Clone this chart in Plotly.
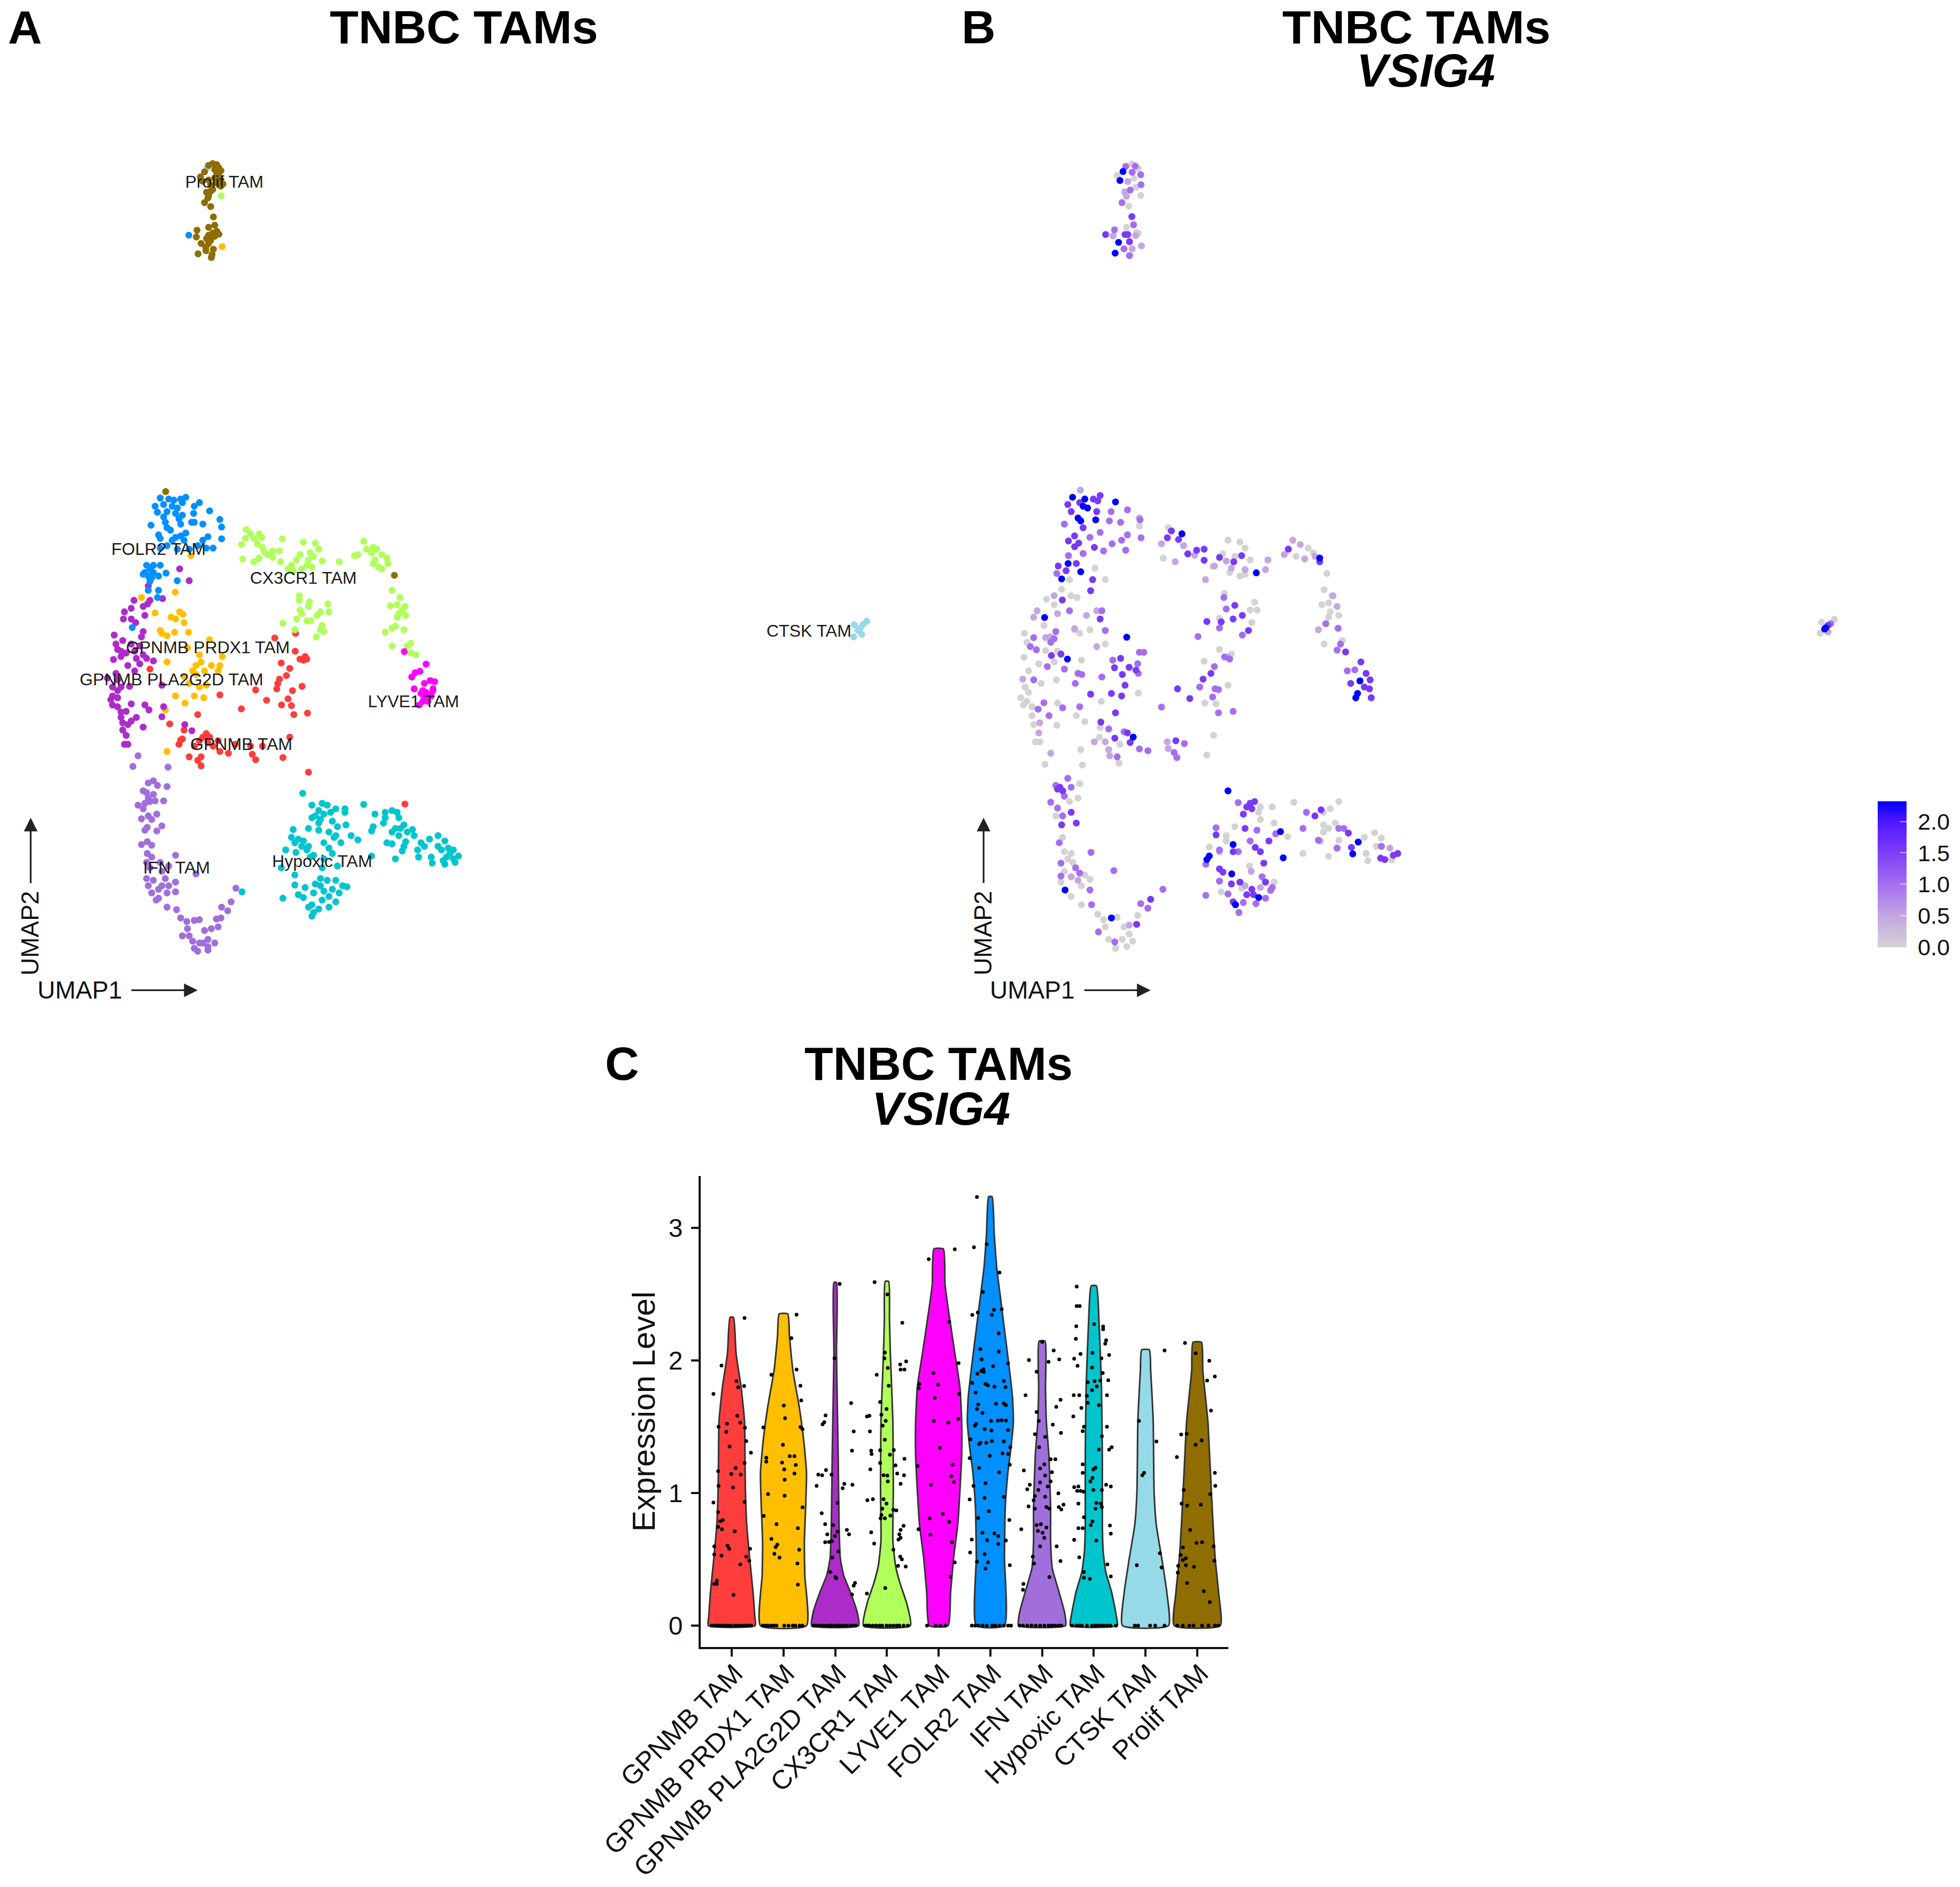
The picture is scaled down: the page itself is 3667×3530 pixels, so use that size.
import plotly.graph_objects as go

W, H = 3667, 3530
FONT = "Liberation Sans"

categories = ["GPNMB TAM", "GPNMB PRDX1 TAM", "GPNMB PLA2G2D TAM", "CX3CR1 TAM", "LYVE1 TAM",
              "FOLR2 TAM", "IFN TAM", "Hypoxic TAM", "CTSK TAM", "Prolif TAM"]
colors = ["#FF3D3D", "#FFBF00", "#AD2CC9", "#B0FF5A", "#FF00FF",
          "#0090FF", "#A06FDB", "#00C5CD", "#96DAE9", "#8F6D00"]

# ---------- Panel A: UMAP read-off positions (1/100 style plot units) ----------
gpnmb = [(867,500),(806,513),(866,550),(895,565),(880,572),(890,575),(900,572),(825,583),(850,598),(440,600),(840,618),(820,628),(815,640),(812,655),(750,658),(858,660),(886,648),(645,672),(782,687),(845,683),(708,711),(826,700),(855,702),(580,727),(862,727),(902,723),(498,753),(540,770),(605,780),(615,790),(850,790),(535,795),(585,800),(640,800),(610,805),(525,810),(570,815),(625,815),(690,810),(735,815),(770,815),(645,830),(670,835),(555,845),(740,838),(590,845),(830,847),(580,855),(750,853),(590,870),(905,888),(1188,977),(530,798),(595,790)]
prdx1 = [(415,400),(514,385),(455,443),(527,440),(537,447),(502,455),(515,460),(540,470),(470,492),(475,500),(553,497),(512,497),(490,507),(615,518),(550,540),(585,560),(652,565),(490,580),(590,580),(575,590),(620,590),(645,590),(565,605),(600,605),(575,615),(640,605),(555,640),(605,645),(585,650),(515,675),(570,675),(598,680),(543,695),(485,714),(490,830),(560,283),(540,620),(652,-580)]
pla2g2d = [(435,368),(527,320),(555,353),(477,403),(393,408),(440,408),(420,425),(433,418),(385,430),(365,440),(425,450),(362,460),(385,460),(398,470),(420,495),(335,505),(415,510),(360,520),(340,530),(385,530),(410,535),(345,545),(355,550),(370,555),(395,550),(420,560),(355,565),(400,570),(430,570),(450,577),(333,573),(375,590),(410,585),(395,605),(340,612),(315,625),(345,630),(330,650),(355,650),(475,645),(380,648),(345,660),(330,675),(325,685),(345,680),(330,700),(345,705),(385,697),(425,700),(437,714),(370,718),(355,735),(400,735),(385,745),(360,750),(375,755),(360,770),(420,762),(475,733),(480,705),(370,785),(365,810),(375,810),(542,755),(563,772),(355,720)]
cx3cr1 = [(722,210),(735,222),(760,222),(720,235),(745,235),(768,232),(828,236),(708,252),(755,250),(770,260),(775,272),(800,270),(820,270),(785,280),(800,288),(760,290),(745,300),(712,293),(823,300),(890,245),(925,248),(935,265),(910,275),(880,280),(920,285),(870,295),(905,295),(945,298),(995,300),(855,310),(900,310),(885,320),(915,315),(860,325),(845,320),(1067,243),(1095,260),(1105,265),(1075,265),(1050,280),(1090,275),(1120,280),(1135,290),(1040,283),(1100,295),(1138,305),(1095,305),(1120,320),(1110,315),(1150,380),(1173,400),(1145,423),(1165,420),(1188,425),(1180,435),(1170,445),(1190,450),(1165,455),(1160,480),(1150,485),(1185,490),(1130,497),(1205,528),(1195,535),(1150,535),(1205,555),(1220,560),(878,395),(878,408),(908,412),(962,418),(880,435),(905,425),(965,440),(940,440),(930,450),(885,445),(870,460),(912,465),(830,472),(945,478),(865,490),(900,465),(950,495),(928,510),(940,490),(649,-722)]
lyve1 = [(1186,551),(1250,586),(1232,606),(1218,610),(1208,622),(1262,632),(1275,635),(1245,640),(1215,655),(1240,660),(1270,655),(1250,665),(1235,668),(1265,675),(1245,680),(1240,690),(1230,700),(1255,690),(1270,660)]
folr2 = [(545,120),(530,125),(510,128),(495,125),(470,122),(455,145),(480,140),(505,145),(520,150),(535,135),(585,135),(570,145),(462,162),(490,160),(515,165),(535,170),(480,175),(525,180),(568,165),(615,158),(645,182),(650,203),(595,195),(570,190),(562,190),(485,190),(530,195),(443,198),(490,205),(500,212),(465,225),(545,220),(530,228),(515,232),(610,230),(595,240),(650,236),(625,262),(605,262),(470,235),(505,240),(490,255),(540,240),(470,262),(580,255),(520,265),(555,265),(450,310),(470,310),(440,320),(425,330),(450,330),(435,340),(420,335),(465,340),(487,332),(440,355),(520,353),(435,380),(465,380),(462,400),(388,484),(430,310),(445,345),(554,-612)]
ifn = [(405,842),(390,872),(493,874),(450,912),(435,918),(462,925),(490,928),(420,940),(430,945),(450,950),(435,960),(455,968),(480,968),(405,980),(425,975),(440,970),(420,990),(460,1005),(435,1010),(415,1018),(445,1020),(432,1042),(475,1038),(425,1050),(460,1052),(432,1082),(415,1090),(445,1092),(432,1115),(515,1120),(445,1125),(430,1140),(470,1140),(440,1155),(495,1150),(575,1172),(475,1165),(430,1185),(450,1190),(485,1185),(515,1195),(435,1205),(475,1205),(495,1205),(445,1225),(465,1215),(490,1225),(515,1222),(465,1240),(458,1245),(490,1265),(518,1272),(692,1212),(678,1250),(650,1265),(668,1275),(648,1295),(635,1298),(530,1295),(585,1300),(570,1302),(548,1305),(640,1320),(620,1325),(600,1330),(550,1325),(535,1345),(555,1345),(610,1355),(630,1365),(565,1360),(585,1365),(610,1375),(570,1380),(580,1388),(610,1385),(595,1365)]
hypoxic = [(888,947),(1067,978),(915,980),(945,975),(960,980),(985,990),(935,995),(1012,990),(1012,1000),(950,1005),(925,1010),(970,1000),(915,1015),(940,1020),(975,1025),(1015,1035),(935,1030),(990,1040),(935,1050),(905,1045),(965,1055),(1030,1065),(985,1065),(860,1048),(855,1070),(875,1075),(890,1080),(980,1070),(1050,1077),(865,1085),(905,1095),(950,1085),(1000,1085),(885,1095),(965,1100),(900,1105),(838,1105),(868,1112),(975,1115),(920,1120),(910,1125),(1090,1122),(950,1130),(990,1150),(825,1155),(945,1155),(940,1185),(865,1175),(925,1200),(985,1190),(960,1190),(1005,1205),(865,1203),(940,1205),(895,1210),(1018,1208),(975,1215),(950,1220),(920,1225),(875,1230),(890,1238),(995,1225),(965,1235),(830,1240),(945,1245),(985,1250),(915,1258),(965,1265),(905,1265),(935,1270),(920,1280),(915,1290),(710,1222),(1100,1005),(1130,1000),(1150,995),(1165,1000),(1130,1015),(1170,1015),(1125,1030),(1185,1035),(1160,1045),(1095,1040),(1090,1052),(1175,1045),(1210,1048),(1150,1055),(1195,1055),(1170,1065),(1215,1065),(1135,1085),(1150,1088),(1190,1082),(1185,1095),(1235,1085),(1285,1065),(1260,1075),(1305,1080),(1245,1095),(1285,1095),(1225,1105),(1315,1100),(1180,1108),(1295,1105),(1330,1105),(1160,1130),(1228,1125),(1265,1125),(1320,1115),(1345,1122),(1310,1125),(1330,1130),(1300,1135),(1268,1142),(1305,1145),(1335,1140)]
ctsk = [(2506,476),(2543,466),(2532,475),(2524,485),(2517,492),(2528,503),(2504,510),(608,-800)]
prolif = [(624,-812),(636,-809),(612,-807),(642,-800),(630,-795),(648,-792),(600,-789),(636,-786),(642,-778),(588,-775),(630,-772),(648,-766),(612,-766),(594,-763),(636,-758),(654,-755),(618,-752),(648,-749),(624,-740),(606,-732),(618,-735),(612,-723),(610,-716),(600,-703),(618,-692),(626,-663),(630,-640),(612,-634),(578,-626),(636,-623),(624,-618),(612,-612),(642,-615),(630,-609),(576,-607),(606,-603),(618,-598),(590,-589),(612,-589),(604,-578),(626,-573),(604,-569),(581,-560),(622,-558),(620,-550),(486,104),(1157,338)]
clusters = [gpnmb, prdx1, pla2g2d, cx3cr1, lyve1, folr2, ifn, hypoxic, ctsk, prolif]

label_names = ["FOLR2 TAM", "CX3CR1 TAM", "GPNMB PRDX1 TAM", "GPNMB PLA2G2D TAM", "LYVE1 TAM",
               "GPNMB TAM", "IFN TAM", "Hypoxic TAM", "Prolif TAM", "CTSK TAM"]
label_x = [465, 890, 610, 503, 1213, 708, 518, 945, 658, 2373]
label_y = [269, 349, 544, 634, 694, 814, 1159, 1141, -757, 497]

# ---------- Panel B: VSIG4 expression, positions grouped by read colour ----------
b_zero = [(520,200),(345,500),(375,490),(330,490),(183,500),(190,525),(245,548),(280,550),(182,567),(225,585),(270,580),(350,575),(195,605),(277,630),(232,640),(185,650),(195,665),(172,680),(190,690),(180,700),(205,705),(205,730),(210,755),(278,757),(360,747),(280,695),(335,730),(215,803),(228,803),(348,825),(243,866),(353,868),(408,690),(517,667),(420,530),(390,318),(420,350),(315,350),(292,377),(337,400),(248,405),(320,395),(270,420),(240,478),(460,863),(403,790),(405,763),(463,810),(590,290),(605,205),(650,255),(735,313),(780,240),(815,245),(830,262),(800,285),(845,295),(765,278),(785,330),(815,340),(830,335),(1015,262),(1030,275),(980,285),(1070,333),(1062,378),(1085,395),(1075,415),(1055,420),(1080,440),(1105,450),(1075,455),(1115,520),(1062,530),(770,388),(858,413),(865,435),(845,435),(755,458),(850,470),(755,545),(710,578),(790,558),(780,645),(712,695),(745,697),(738,785),(718,840),(345,920),(340,960),(315,970),(275,1010),(295,1070),(300,1110),(320,1115),(310,1130),(325,1140),(300,1165),(360,1175),(375,1187),(290,1195),(350,1205),(320,1235),(350,1258),(398,1285),(455,1293),(415,1300),(420,1320),(475,1320),(515,1288),(490,1340),(430,1355),(470,1355),(500,1360),(450,1380),(483,1375),(910,985),(875,985),(870,1000),(875,1020),(915,1030),(800,1040),(955,1068),(775,1065),(775,1080),(725,1097),(1000,1115),(843,1150),(755,1193),(760,1222),(820,1212),(915,1195),(973,972),(1105,970),(1080,990),(1060,1000),(1060,1035),(1075,1045),(1095,1030),(1060,1055),(1105,1078),(1180,1070),(1210,1057),(1230,1072),(1215,1095),(1185,1115),(1190,1135),(1075,1123),(1260,1133),(498,-811),(455,-779),(517,-799),(504,-771),(510,-746),(524,-723),(489,-693),(482,-634),(512,-620),(517,-617),(2521,469),(2559,461),(2517,500)]
b_light = [(347,100),(520,178),(585,250),(625,300),(650,255),(682,282),(740,312),(775,298),(790,318),(830,322),(897,295),(890,322),(714,350),(945,280),(970,240),(992,252),(1035,285),(1005,292),(1045,490),(1088,395),(1100,425),(270,395),(220,437),(210,455),(280,445),(365,450),(395,437),(330,487),(245,512),(258,510),(395,537),(178,628),(228,750),(225,778),(260,835),(388,803),(420,803),(430,825),(433,842),(602,803),(605,822),(780,567),(755,1110),(1050,1080),(1100,1100),(848,1165),(875,1210),(830,1205),(1230,1095),(1255,1100),(490,1315),(340,1190),(320,1180),(486,-762),(477,-733),(482,-721),(443,-610),(509,-611),(499,-574),(526,-582),(2540,496)]
b_mid = [(300,195),(437,160),(485,155),(465,190),(432,186),(522,183),(525,233),(405,218),(375,232),(440,250),(468,240),(485,225),(415,270),(480,268),(355,277),(312,283),(278,333),(315,437),(410,437),(420,492),(768,400),(775,432),(692,509),(755,485),(822,505),(210,512),(275,495),(260,525),(270,515),(200,537),(218,546),(300,600),(250,593),(351,615),(340,612),(332,640),(210,630),(240,694),(223,712),(295,708),(345,705),(255,730),(410,622),(442,575),(520,553),(533,553),(515,585),(517,612),(585,706),(430,767),(475,775),(520,823),(545,828),(622,833),(630,847),(652,808),(455,845),(770,566),(785,572),(740,593),(697,650),(742,655),(752,657),(735,678),(795,718),(752,722),(1110,530),(1100,547),(1130,605),(1152,602),(1103,486),(1067,473),(310,905),(275,925),(320,930),(300,955),(260,972),(280,988),(295,1010),(285,1085),(378,1112),(445,1163),(290,1142),(333,1155),(345,1170),(290,1178),(375,1217),(380,1258),(524,1255),(545,1268),(589,1215),(400,1334),(448,1362),(810,973),(745,1043),(865,1050),(920,1060),(845,1080),(755,1105),(810,1110),(715,1145),(755,1192),(780,1228),(715,1232),(825,1252),(862,1255),(890,1240),(905,1218),(812,1280),(880,1180),(910,1210),(1000,1045),(1045,1078),(1105,1045),(1120,1045),(1100,1100),(1230,1095),(1010,1000),(480,-804),(508,-805),(499,-788),(524,-781),(525,-753),(493,-738),(469,-703),(503,-641),(447,-627),(475,-574),(491,-555),(2548,473)]
b_strong = [(310,140),(345,135),(385,125),(405,115),(398,130),(320,160),(395,160),(355,205),(312,242),(330,228),(342,248),(330,258),(388,260),(282,312),(305,325),(335,305),(614,214),(602,233),(635,238),(688,268),(662,278),(710,265),(710,296),(755,288),(820,283),(797,300),(957,265),(1049,300),(377,381),(383,350),(294,407),(405,460),(800,422),(822,450),(840,492),(795,460),(760,468),(718,467),(447,596),(465,570),(490,595),(510,603),(478,645),(470,615),(468,675),(438,668),(377,670),(450,722),(407,748),(485,778),(493,805),(448,793),(627,800),(632,655),(668,682),(707,628),(730,612),(262,562),(290,558),(1170,580),(1125,552),(1185,612),(1197,630),(1180,650),(1195,655),(1200,680),(1140,640),(287,930),(280,935),(295,940),(320,1000),(335,1030),(292,1035),(845,975),(835,985),(858,970),(850,990),(825,1005),(830,1045),(745,1063),(795,1110),(860,1098),(900,1080),(875,1110),(885,1142),(755,1158),(765,1167),(790,1200),(850,1215),(855,1230),(835,1230),(795,1250),(815,1195),(890,1195),(1035,1010),(1053,993),(1133,1058),(1142,1098),(1228,1128),(1240,1132),(1265,1120),(1278,1115),(553,1243),(512,1313),(421,-614),(498,-664),(486,-614),(478,-614),(491,-594),(2540,478)]
b_blue = [(324,120),(360,125),(450,133),(355,145),(368,150),(340,178),(348,186),(392,183),(311,305),(348,328),(292,348),(645,222),(863,331),(1049,290),(242,456),(483,511),(309,572),(502,790),(780,940),(934,1054),(942,1127),(1167,633),(1160,668),(1155,680),(795,1090),(725,1122),(718,1132),(791,1172),(802,1258),(870,1238),(302,1217),(1146,1116),(1162,1083),(438,1295),(472,-790),(463,-765),(459,-592),(449,-562),(2530,488),(2533,485)]
b_groups = [b_zero, b_light, b_mid, b_strong, b_blue]
b_values = [0.0, 0.5, 1.0, 1.55, 2.32]
expr_scale = [[0, "#D3D3D3"], [0.215, "#C4A6E2"], [0.431, "#A56EF0"], [0.647, "#7E3DF7"], [0.862, "#4E17FF"], [1, "#0000FF"]]

# ---------- Panel C: violin outlines (level read-outs, half-width read-outs) ----------
lv_0 = [495,600,700,800,900,1000,1100,1200,1300,1370,1397]
hw_0 = [4,10,22,30,31,32,35,42,50,54,55]
lv_1 = [485,550,650,750,850,950,1050,1150,1250,1397]
hw_1 = [10,14,22,36,47,54,52,49,50,54]
lv_2 = [393,600,900,1100,1200,1250,1300,1360,1397]
hw_2 = [3,3,7,9,12,20,36,52,55]
lv_3 = [390,500,600,800,1000,1150,1220,1270,1330,1397]
hw_3 = [4,6,8,14,15,14,20,30,46,55]
lv_4 = [295,400,500,600,700,800,900,1000,1100,1200,1300,1397]
hw_4 = [11,15,26,38,50,54,54,50,45,35,28,22]
lv_5 = [142,250,350,450,550,650,730,800,870,950,1050,1100,1200,1397]
hw_5 = [4,9,15,25,35,45,52,54,49,41,35,34,33,33]
lv_6 = [565,700,800,900,1050,1150,1230,1300,1360,1397]
hw_6 = [7,8,10,16,20,20,24,40,53,55]
lv_7 = [403,500,700,900,1100,1180,1240,1300,1370,1397]
hw_7 = [6,12,18,20,20,22,28,42,53,55]
lv_8 = [590,650,800,1000,1100,1200,1300,1397]
hw_8 = [9,12,18,20,25,38,50,54]
lv_9 = [568,650,800,900,1000,1100,1200,1300,1397]
hw_9 = [10,13,25,29,33,37,42,50,54]
violin_levels = [lv_0, lv_1, lv_2, lv_3, lv_4, lv_5, lv_6, lv_7, lv_8, lv_9]
violin_halfwidths = [hw_0, hw_1, hw_2, hw_3, hw_4, hw_5, hw_6, hw_7, hw_8, hw_9]

jit_0 = [(367,497),(313,636),(294,719),(348,682),(352,700),(366,696),(350,783),(326,806),(357,803),(306,815),(368,818),(324,830),(371,857),(332,873),(382,891),(367,921),(346,936),(305,945),(336,953),(358,955),(306,988),(340,993),(294,1037),(367,1035),(305,1065),(316,1088),(310,1092),(305,1108),(314,1115),(344,1121),(296,1165),(327,1163),(331,1172),(380,1172),(296,1189),(313,1192),(371,1195),(378,1207),(357,1218),(302,1265),(296,1275),(302,1275),(341,1307)]
jit_1 = [(489,487),(477,556),(430,663),(489,648),(459,753),(498,695),(500,738),(462,790),(411,817),(498,816),(503,822),(457,868),(473,901),(484,901),(418,906),(418,917),(455,920),(487,927),(460,940),(484,952),(461,970),(422,1012),(461,1017),(503,1051),(412,1076),(442,1100),(492,1112),(430,1143),(444,1160),(440,1167),(495,1175),(437,1187),(449,1198),(491,1215),(492,1277)]
jit_2 = [(590,397),(578,615),(557,782),(554,802),(550,808),(617,746),(623,829),(619,885),(558,942),(540,955),(549,957),(571,955),(601,982),(620,985),(536,988),(597,995),(585,1038),(548,1068),(556,1100),(575,1103),(607,1117),(612,1130),(585,1122),(561,1130),(556,1153),(565,1152),(572,1150),(579,1135),(587,1180),(573,1198),(568,1240),(580,1255),(582,1258),(626,1272),(623,1280),(619,1306)]
jit_3 = [(672,392),(702,428),(737,511),(696,598),(695,615),(746,624),(732,633),(703,643),(677,663),(733,648),(742,648),(705,695),(685,743),(700,763),(660,783),(654,785),(688,780),(698,798),(691,812),(661,829),(696,853),(717,883),(685,884),(664,885),(665,895),(708,897),(742,909),(685,921),(721,928),(662,940),(725,952),(693,957),(702,958),(741,957),(703,975),(733,982),(655,1030),(668,1027),(693,1027),(700,1040),(690,1055),(716,1058),(723,1060),(688,1073),(709,1075),(686,1083),(696,1083),(740,1105),(733,1117),(664,1124),(730,1130),(733,1140),(728,1145),(671,1157),(716,1175),(732,1195),(736,1203),(727,1222),(745,1224),(697,1287),(654,1303)]
jit_4 = [(860,296),(799,325),(847,508),(869,629),(810,658),(777,690),(821,692),(776,702),(813,731),(870,719),(868,792),(811,798),(845,803),(773,930),(825,877),(855,926),(852,960),(858,977),(804,985),(801,1083),(832,1070),(847,1093),(775,1115),(803,1131),(853,1153),(860,1212),(850,1254)]
jit_5 = [(912,143),(905,290),(935,281),(965,364),(926,421),(952,473),(970,471),(901,488),(914,481),(947,488),(963,542),(920,588),(963,595),(923,618),(985,630),(950,638),(927,647),(922,652),(913,660),(928,655),(901,687),(932,690),(938,694),(975,681),(953,698),(979,699),(909,715),(975,747),(957,748),(915,750),(912,763),(980,752),(925,775),(910,807),(945,798),(961,797),(970,796),(980,797),(907,812),(946,826),(930,822),(985,825),(897,852),(920,862),(934,862),(947,857),(975,858),(917,866),(990,875),(895,907),(942,900),(972,893),(985,895),(917,936),(989,926),(964,948),(932,980),(904,988),(975,1020),(895,1028),(930,1023),(940,1062),(915,1082),(988,1088),(925,1125),(953,1127),(962,1135),(900,1145),(980,1148),(936,1147),(962,1158),(896,1183),(930,1188),(912,1210),(938,1212),(989,1220),(932,1230)]
jit_6 = [(1065,567),(1092,592),(1034,620),(1080,625),(1105,618),(1052,654),(1026,723),(1108,736),(1098,757),(1052,772),(1057,798),(1090,809),(1048,837),(1072,845),(1109,833),(1058,875),(1085,910),(1096,910),(1070,925),(1022,943),(1060,937),(1088,948),(1072,958),(1085,975),(1060,978),(1036,985),(1030,998),(1078,990),(1056,1000),(1103,1010),(1048,1018),(1072,1020),(1045,1030),(1115,1043),(1033,1048),(1048,1055),(1075,1050),(1104,1050),(1082,1055),(1110,1057),(1062,1100),(1052,1103),(1075,1110),(1016,1115),(1055,1120),(1066,1125),(1070,1140),(1060,1165),(1099,1165),(1043,1195),(1046,1215),(1108,1208),(1082,1255),(1021,1275),(1020,1292)]
jit_7 = [(1146,405),(1146,462),(1153,462),(1145,521),(1187,515),(1208,522),(1208,530),(1144,558),(1215,562),(1213,572),(1183,599),(1222,605),(1155,602),(1140,616),(1204,615),(1148,637),(1182,642),(1207,658),(1172,685),(1188,682),(1201,680),(1220,679),(1193,697),(1182,708),(1139,723),(1152,723),(1170,725),(1217,723),(1172,745),(1198,752),(1157,760),(1138,785),(1217,815),(1163,815),(1160,828),(1205,843),(1228,875),(1222,882),(1198,882),(1160,925),(1190,935),(1185,940),(1160,950),(1183,965),(1178,975),(1150,990),(1140,992),(1215,985),(1226,990),(1185,1000),(1205,1000),(1147,1003),(1155,1003),(1162,1005),(1202,1040),(1192,1038),(1150,1040),(1205,1050),(1190,1055),(1163,1080),(1183,1092),(1179,1103),(1224,1104),(1160,1112),(1150,1112),(1226,1128),(1140,1146),(1192,1148),(1152,1197),(1218,1218),(1163,1240),(1226,1253),(1163,1257),(1177,1260)]
jit_8 = [(1352,592),(1292,798),(1333,858),(1304,950),(1300,957),(1341,1185),(1287,1220),(1345,1227)]
jit_9 = [(1400,570),(1425,600),(1457,622),(1470,668),(1452,680),(1461,768),(1391,838),(1404,836),(1439,855),(1425,868),(1381,904),(1470,950),(1471,988),(1397,1000),(1459,1012),(1392,1040),(1405,1046),(1437,1043),(1412,1117),(1467,1165),(1427,1155),(1440,1153),(1395,1168),(1390,1190),(1402,1200),(1395,1205),(1469,1207),(1384,1222),(1402,1220),(1421,1225),(1383,1242),(1405,1272),(1444,1296),(1458,1328)]
jitter_points = [jit_0, jit_1, jit_2, jit_3, jit_4, jit_5, jit_6, jit_7, jit_8, jit_9]

zero_0 = [290,297,302,307,312,318,324,330,335,344,350,358,365,372,378,383]
zero_1 = [410,416,422,430,436,442,460,470,480,486,496,503]
zero_2 = [528,533,539,545,552,560,565,570,578,584,590,598,606,615,622,628]
zero_3 = [650,655,660,668,676,684,690,700,708,716,724,730,740,750]
zero_4 = [795,815,826,838]
zero_5 = [900,908,915,925,935,948,955,965,975,985,992]
zero_6 = [1012,1020,1030,1040,1050,1060,1070,1080,1088,1095,1103,1110]
zero_7 = [1135,1145,1152,1158,1170,1182,1190,1195,1203,1210,1218,1225,1238]
zero_8 = [1282,1290,1318,1330,1352]
zero_9 = [1382,1395,1410,1420,1440,1455,1470,1478]
zero_points = [zero_0, zero_1, zero_2, zero_3, zero_4, zero_5, zero_6, zero_7, zero_8, zero_9]

expr_ticks = [0, 1, 2, 3]

# read-out units of panel C to category / expression units
CAT_STEP, CAT_ORIGIN, LEVEL_STEP, LEVEL_ZERO = 121.3, 337, 388, 1397
to_cat = lambda r: (r - CAT_ORIGIN) / CAT_STEP
to_expr = lambda r: (LEVEL_ZERO - r) / LEVEL_STEP

fig = go.Figure()

# Panel A
for pts, col, name in zip(clusters, colors, categories):
    fig.add_trace(go.Scatter(x=[p[0] for p in pts], y=[p[1] for p in pts], mode="markers", name=name,
                             marker=dict(size=13, color=col, line=dict(width=0)),
                             xaxis="x", yaxis="y", showlegend=False))
fig.add_trace(go.Scatter(x=label_x, y=label_y, text=label_names, mode="text", showlegend=False,
                         textfont=dict(family=FONT, size=32, color="#1a1a1a"), textposition="middle center",
                         xaxis="x", yaxis="y"))

# Panel B
for i, (pts, val) in enumerate(zip(b_groups, b_values)):
    marker = dict(size=13, color=[val] * len(pts), colorscale=expr_scale, cmin=0, cmax=2.32, line=dict(width=0))
    if i == 0:
        marker["showscale"] = True
        marker["colorbar"] = dict(
            x=3513 / W, xanchor="left", xpad=0, y=1 - 1772 / H, yanchor="bottom", ypad=0,
            len=273, lenmode="pixels", thickness=54, thicknessmode="pixels", outlinewidth=0,
            tickvals=[0, 0.5, 1, 1.5, 2],
            ticktext=["\u00a00.0", "\u00a00.5", "\u00a01.0", "\u00a01.5", "\u00a02.0"],
            ticks="inside", ticklen=12, tickwidth=2, tickcolor="rgba(255,255,255,0.6)",
            tickfont=dict(family=FONT, size=43, color="#111"))
    fig.add_trace(go.Scatter(x=[p[0] for p in pts], y=[p[1] for p in pts], mode="markers",
                             marker=marker, xaxis="x2", yaxis="y2", showlegend=False))

# Panel C
for i, (lv, hw, col) in enumerate(zip(violin_levels, violin_halfwidths, colors)):
    ys = [to_expr(v) for v in lv]
    xs_r = [i + h / CAT_STEP for h in hw]
    xs_l = [i - h / CAT_STEP for h in hw]
    fig.add_trace(go.Scatter(x=xs_l[::-1] + xs_r + [xs_l[-1]], y=ys[::-1] + ys + [ys[-1]], mode="lines",
                             fill="toself", fillcolor=col,
                             line=dict(color="#333333", width=3, shape="spline", smoothing=0.5),
                             name=categories[i], xaxis="x3", yaxis="y3", showlegend=False))
for pts, zeros in zip(jitter_points, zero_points):
    xs = [to_cat(p[0]) for p in pts] + [to_cat(z) for z in zeros]
    ys = [to_expr(p[1]) for p in pts] + [0] * len(zeros)
    fig.add_trace(go.Scatter(x=xs, y=ys, mode="markers", marker=dict(size=7, color="black", line=dict(width=0)),
                             xaxis="x3", yaxis="y3", showlegend=False))


def title(txt, px, py, size, bold=True):
    return dict(text=f"<b>{txt}</b>" if bold else txt, x=px / W, y=1 - py / H, xref="paper", yref="paper",
                showarrow=False, xanchor="center", yanchor="middle",
                font=dict(family=FONT, size=size, color="black"))


anns = [title("A", 47, 51, 88), title("TNBC TAMs", 868, 51, 88),
        title("B", 1831, 51, 88), title("TNBC TAMs", 2650, 51, 88), title("<i>VSIG4</i>", 2667, 131, 88),
        title("C", 1164, 1990, 88), title("TNBC TAMs", 1756, 1990, 88), title("<i>VSIG4</i>", 1760, 2073, 88)]

for xa, ya, dx in [("x", "y", 0), ("x2", "y2", -27)]:
    anns += [
        dict(text="UMAP1", x=233 + dx, y=1497, xref=xa, yref=ya, showarrow=False,
             font=dict(family=FONT, size=46, color="#111")),
        dict(text="UMAP2", x=88 + dx, y=1338, xref=xa, yref=ya, showarrow=False, textangle=-90,
             font=dict(family=FONT, size=46, color="#111")),
        dict(text="", x=580 + dx, y=1497, ax=383 + dx, ay=1497, xref=xa, yref=ya, axref=xa, ayref=ya,
             showarrow=True, arrowhead=2, arrowsize=1.6, arrowwidth=3.2, arrowcolor="#222"),
        dict(text="", x=90 + dx, y=1015, ax=90 + dx, ay=1200, xref=xa, yref=ya, axref=xa, ayref=ya,
             showarrow=True, arrowhead=2, arrowsize=1.6, arrowwidth=3.2, arrowcolor="#222"),
    ]

hidden = dict(visible=False, showgrid=False, zeroline=False)
fig.update_layout(
    width=W, height=H, margin=dict(l=0, r=0, t=0, b=0, pad=0, autoexpand=False),
    paper_bgcolor="white", plot_bgcolor="white", showlegend=False,
    font=dict(family=FONT, color="black"),
    annotations=anns,
    xaxis=dict(domain=[0, 1750 / W], range=[0, 2744], **hidden),
    yaxis=dict(domain=[1 - 1900 / H, 1], range=[1568, -1269], **hidden),
    xaxis2=dict(domain=[1800 / W, 3450 / W], range=[0, 2587], **hidden),
    yaxis2=dict(domain=[1 - 1900 / H, 1], range=[1568, -1269], anchor="x2", **hidden),
    xaxis3=dict(domain=[1311 / W, 2298 / W], range=[-0.6, 9.6], anchor="y3", tickmode="array",
                tickvals=list(range(len(categories))), ticktext=categories, tickangle=-45,
                ticks="outside", ticklen=14, tickwidth=4, tickcolor="#111", automargin=False,
                ticklabelstandoff=-18, ticklabelshift=6,
                showline=True, linecolor="#111", linewidth=4, showgrid=False, zeroline=False,
                tickfont=dict(family=FONT, size=50, color="#111")),
    yaxis3=dict(domain=[1 - 3081 / H, 1 - 2200 / H], range=[-0.161, 3.39], anchor="x3", tickmode="array",
                tickvals=expr_ticks, ticks="outside", ticklen=14, tickwidth=4, tickcolor="#111", automargin=False,
                ticklabelstandoff=6,
                showline=True, linecolor="#111", linewidth=4, showgrid=False, zeroline=False,
                tickfont=dict(family=FONT, size=48, color="#111"),
                title=dict(text="Expression Level", standoff=7, font=dict(family=FONT, size=59, color="#111"))),
)

fig.write_html("out.html", post_script="document.body.style.margin='0';",
               config={"displayModeBar": False})
